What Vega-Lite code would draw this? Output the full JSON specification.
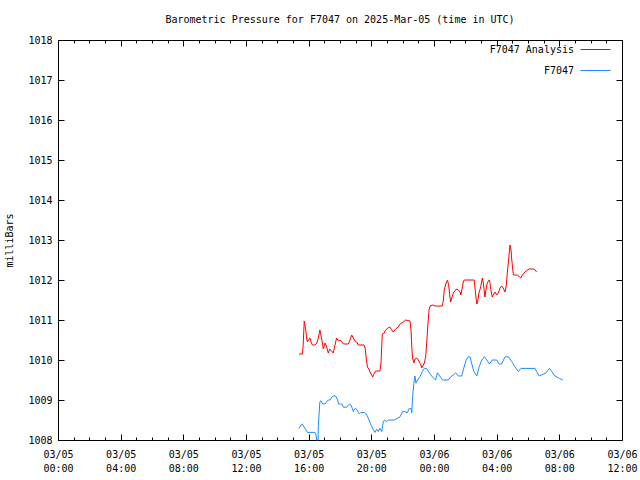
{
  "$schema": "https://vega.github.io/schema/vega-lite/v6.json",
  "width": 564,
  "height": 400,
  "autosize": {"type": "none"},
  "padding": {"left": 58, "top": 40, "right": 18, "bottom": 40},
  "background": "#ffffff",
  "config": {
    "view": {"stroke": "#000000", "strokeWidth": 1},
    "axis": {"domain": false, "grid": false, "tickColor": "#000000", "tickWidth": 1, "labelColor": "#000000", "labelFont": "DejaVu Sans Mono", "labelFontSize": 10, "titleFont": "DejaVu Sans Mono", "titleFontSize": 10, "titleFontWeight": "normal", "titleColor": "#000000"}
  },
  "title": {"text": "Barometric Pressure for F7047 on 2025-Mar-05 (time in UTC)", "font": "DejaVu Sans Mono", "fontSize": 10, "fontWeight": "normal", "color": "#000000", "anchor": "middle", "frame": "group", "offset": 9},
  "resolve": {"axis": {"x": "independent", "y": "independent"}},
  "datasets": {
    "analysis": [
      {"t": "2025-03-05T15:23:00Z", "p": 1010.15}, {"t": "2025-03-05T15:36:00Z", "p": 1010.15}, {"t": "2025-03-05T15:39:00Z", "p": 1010.375},
      {"t": "2025-03-05T15:43:00Z", "p": 1010.975}, {"t": "2025-03-05T15:46:00Z", "p": 1010.875}, {"t": "2025-03-05T15:49:00Z", "p": 1010.75},
      {"t": "2025-03-05T15:52:00Z", "p": 1010.55}, {"t": "2025-03-05T15:55:00Z", "p": 1010.45}, {"t": "2025-03-05T15:59:00Z", "p": 1010.5},
      {"t": "2025-03-05T16:05:00Z", "p": 1010.55}, {"t": "2025-03-05T16:09:00Z", "p": 1010.45}, {"t": "2025-03-05T16:14:00Z", "p": 1010.375},
      {"t": "2025-03-05T16:24:00Z", "p": 1010.375}, {"t": "2025-03-05T16:31:00Z", "p": 1010.425}, {"t": "2025-03-05T16:37:00Z", "p": 1010.55},
      {"t": "2025-03-05T16:43:00Z", "p": 1010.75}, {"t": "2025-03-05T16:47:00Z", "p": 1010.625}, {"t": "2025-03-05T16:52:00Z", "p": 1010.45},
      {"t": "2025-03-05T16:56:00Z", "p": 1010.275}, {"t": "2025-03-05T17:03:00Z", "p": 1010.425}, {"t": "2025-03-05T17:09:00Z", "p": 1010.325},
      {"t": "2025-03-05T17:15:00Z", "p": 1010.175}, {"t": "2025-03-05T17:21:00Z", "p": 1010.275}, {"t": "2025-03-05T17:28:00Z", "p": 1010.225},
      {"t": "2025-03-05T17:34:00Z", "p": 1010.175}, {"t": "2025-03-05T17:41:00Z", "p": 1010.375}, {"t": "2025-03-05T17:47:00Z", "p": 1010.55},
      {"t": "2025-03-05T17:54:00Z", "p": 1010.475}, {"t": "2025-03-05T18:01:00Z", "p": 1010.5}, {"t": "2025-03-05T18:07:00Z", "p": 1010.45},
      {"t": "2025-03-05T18:13:00Z", "p": 1010.4}, {"t": "2025-03-05T18:32:00Z", "p": 1010.4}, {"t": "2025-03-05T18:38:00Z", "p": 1010.5},
      {"t": "2025-03-05T18:45:00Z", "p": 1010.625}, {"t": "2025-03-05T18:51:00Z", "p": 1010.55}, {"t": "2025-03-05T18:57:00Z", "p": 1010.475},
      {"t": "2025-03-05T19:04:00Z", "p": 1010.45}, {"t": "2025-03-05T19:10:00Z", "p": 1010.375}, {"t": "2025-03-05T19:32:00Z", "p": 1010.375},
      {"t": "2025-03-05T19:36:00Z", "p": 1010.3}, {"t": "2025-03-05T19:40:00Z", "p": 1010.075}, {"t": "2025-03-05T19:45:00Z", "p": 1009.825},
      {"t": "2025-03-05T19:51:00Z", "p": 1009.775}, {"t": "2025-03-05T19:55:00Z", "p": 1009.7}, {"t": "2025-03-05T20:01:00Z", "p": 1009.625},
      {"t": "2025-03-05T20:05:00Z", "p": 1009.575}, {"t": "2025-03-05T20:10:00Z", "p": 1009.65}, {"t": "2025-03-05T20:17:00Z", "p": 1009.725},
      {"t": "2025-03-05T20:33:00Z", "p": 1009.725}, {"t": "2025-03-05T20:37:00Z", "p": 1009.925}, {"t": "2025-03-05T20:42:00Z", "p": 1010.65},
      {"t": "2025-03-05T20:50:00Z", "p": 1010.675}, {"t": "2025-03-05T20:52:00Z", "p": 1010.725}, {"t": "2025-03-05T21:03:00Z", "p": 1010.8},
      {"t": "2025-03-05T21:11:00Z", "p": 1010.825}, {"t": "2025-03-05T21:18:00Z", "p": 1010.75}, {"t": "2025-03-05T21:24:00Z", "p": 1010.7},
      {"t": "2025-03-05T21:33:00Z", "p": 1010.775}, {"t": "2025-03-05T21:43:00Z", "p": 1010.825}, {"t": "2025-03-05T21:50:00Z", "p": 1010.9},
      {"t": "2025-03-05T22:02:00Z", "p": 1010.95}, {"t": "2025-03-05T22:12:00Z", "p": 1011.0}, {"t": "2025-03-05T22:28:00Z", "p": 1010.975},
      {"t": "2025-03-05T22:32:00Z", "p": 1010.75}, {"t": "2025-03-05T22:35:00Z", "p": 1010.325}, {"t": "2025-03-05T22:38:00Z", "p": 1010.05},
      {"t": "2025-03-05T22:43:00Z", "p": 1009.925}, {"t": "2025-03-05T22:47:00Z", "p": 1010.025}, {"t": "2025-03-05T22:54:00Z", "p": 1010.05},
      {"t": "2025-03-05T23:00:00Z", "p": 1010.0}, {"t": "2025-03-05T23:06:00Z", "p": 1009.925}, {"t": "2025-03-05T23:10:00Z", "p": 1009.875},
      {"t": "2025-03-05T23:13:00Z", "p": 1009.8}, {"t": "2025-03-05T23:19:00Z", "p": 1009.875}, {"t": "2025-03-05T23:23:00Z", "p": 1009.925},
      {"t": "2025-03-05T23:28:00Z", "p": 1010.075}, {"t": "2025-03-05T23:32:00Z", "p": 1010.425}, {"t": "2025-03-05T23:36:00Z", "p": 1010.825},
      {"t": "2025-03-05T23:41:00Z", "p": 1011.25}, {"t": "2025-03-05T23:45:00Z", "p": 1011.35}, {"t": "2025-03-05T23:55:00Z", "p": 1011.375},
      {"t": "2025-03-06T00:04:00Z", "p": 1011.35}, {"t": "2025-03-06T00:32:00Z", "p": 1011.35}, {"t": "2025-03-06T00:36:00Z", "p": 1011.5},
      {"t": "2025-03-06T00:39:00Z", "p": 1011.75}, {"t": "2025-03-06T00:45:00Z", "p": 1011.9}, {"t": "2025-03-06T00:50:00Z", "p": 1011.975},
      {"t": "2025-03-06T00:52:00Z", "p": 1012.0}, {"t": "2025-03-06T00:57:00Z", "p": 1011.825}, {"t": "2025-03-06T01:01:00Z", "p": 1011.575},
      {"t": "2025-03-06T01:04:00Z", "p": 1011.45}, {"t": "2025-03-06T01:08:00Z", "p": 1011.55}, {"t": "2025-03-06T01:14:00Z", "p": 1011.675},
      {"t": "2025-03-06T01:20:00Z", "p": 1011.725}, {"t": "2025-03-06T01:27:00Z", "p": 1011.775}, {"t": "2025-03-06T01:33:00Z", "p": 1011.75},
      {"t": "2025-03-06T01:40:00Z", "p": 1011.7}, {"t": "2025-03-06T01:43:00Z", "p": 1011.625}, {"t": "2025-03-06T01:48:00Z", "p": 1011.8},
      {"t": "2025-03-06T01:52:00Z", "p": 1011.95}, {"t": "2025-03-06T01:56:00Z", "p": 1012.0}, {"t": "2025-03-06T02:34:00Z", "p": 1012.0},
      {"t": "2025-03-06T02:37:00Z", "p": 1011.8}, {"t": "2025-03-06T02:41:00Z", "p": 1011.55}, {"t": "2025-03-06T02:44:00Z", "p": 1011.4},
      {"t": "2025-03-06T02:47:00Z", "p": 1011.45}, {"t": "2025-03-06T02:52:00Z", "p": 1011.675}, {"t": "2025-03-06T02:59:00Z", "p": 1011.825},
      {"t": "2025-03-06T03:05:00Z", "p": 1012.05}, {"t": "2025-03-06T03:09:00Z", "p": 1011.925}, {"t": "2025-03-06T03:13:00Z", "p": 1011.7},
      {"t": "2025-03-06T03:15:00Z", "p": 1011.575}, {"t": "2025-03-06T03:19:00Z", "p": 1011.75}, {"t": "2025-03-06T03:24:00Z", "p": 1011.925},
      {"t": "2025-03-06T03:31:00Z", "p": 1012.0}, {"t": "2025-03-06T03:34:00Z", "p": 1011.95}, {"t": "2025-03-06T03:38:00Z", "p": 1011.75},
      {"t": "2025-03-06T03:43:00Z", "p": 1011.575}, {"t": "2025-03-06T03:47:00Z", "p": 1011.625}, {"t": "2025-03-06T03:54:00Z", "p": 1011.7},
      {"t": "2025-03-06T04:00:00Z", "p": 1011.625}, {"t": "2025-03-06T04:06:00Z", "p": 1011.675}, {"t": "2025-03-06T04:13:00Z", "p": 1011.8},
      {"t": "2025-03-06T04:19:00Z", "p": 1011.85}, {"t": "2025-03-06T04:25:00Z", "p": 1011.8}, {"t": "2025-03-06T04:32:00Z", "p": 1011.7},
      {"t": "2025-03-06T04:37:00Z", "p": 1011.875}, {"t": "2025-03-06T04:41:00Z", "p": 1012.2}, {"t": "2025-03-06T04:45:00Z", "p": 1012.45},
      {"t": "2025-03-06T04:51:00Z", "p": 1012.875}, {"t": "2025-03-06T04:55:00Z", "p": 1012.75}, {"t": "2025-03-06T04:58:00Z", "p": 1012.5},
      {"t": "2025-03-06T05:01:00Z", "p": 1012.3}, {"t": "2025-03-06T05:04:00Z", "p": 1012.125}, {"t": "2025-03-06T05:20:00Z", "p": 1012.125},
      {"t": "2025-03-06T05:27:00Z", "p": 1012.075}, {"t": "2025-03-06T05:33:00Z", "p": 1012.05}, {"t": "2025-03-06T05:38:00Z", "p": 1012.125},
      {"t": "2025-03-06T05:48:00Z", "p": 1012.2}, {"t": "2025-03-06T06:04:00Z", "p": 1012.275}, {"t": "2025-03-06T06:24:00Z", "p": 1012.275},
      {"t": "2025-03-06T06:33:00Z", "p": 1012.2}
    ],
    "observed": [
      {"t": "2025-03-05T15:23:00Z", "p": 1008.29}, {"t": "2025-03-05T15:31:00Z", "p": 1008.375}, {"t": "2025-03-05T15:36:00Z", "p": 1008.4},
      {"t": "2025-03-05T15:42:00Z", "p": 1008.33}, {"t": "2025-03-05T15:50:00Z", "p": 1008.25}, {"t": "2025-03-05T15:55:00Z", "p": 1008.19},
      {"t": "2025-03-05T16:24:00Z", "p": 1008.19}, {"t": "2025-03-05T16:28:00Z", "p": 1008.125}, {"t": "2025-03-05T16:31:00Z", "p": 1008.0},
      {"t": "2025-03-05T16:36:00Z", "p": 1008.0}, {"t": "2025-03-05T16:37:00Z", "p": 1008.33}, {"t": "2025-03-05T16:40:00Z", "p": 1008.675},
      {"t": "2025-03-05T16:43:00Z", "p": 1008.96}, {"t": "2025-03-05T16:47:00Z", "p": 1008.98}, {"t": "2025-03-05T16:54:00Z", "p": 1008.9},
      {"t": "2025-03-05T17:03:00Z", "p": 1008.9}, {"t": "2025-03-05T17:09:00Z", "p": 1008.96}, {"t": "2025-03-05T17:15:00Z", "p": 1009.0},
      {"t": "2025-03-05T17:22:00Z", "p": 1009.0}, {"t": "2025-03-05T17:28:00Z", "p": 1009.07}, {"t": "2025-03-05T17:34:00Z", "p": 1009.1},
      {"t": "2025-03-05T17:43:00Z", "p": 1009.1}, {"t": "2025-03-05T17:51:00Z", "p": 1009.0}, {"t": "2025-03-05T17:54:00Z", "p": 1008.9},
      {"t": "2025-03-05T18:07:00Z", "p": 1008.9}, {"t": "2025-03-05T18:13:00Z", "p": 1008.82}, {"t": "2025-03-05T18:26:00Z", "p": 1008.82},
      {"t": "2025-03-05T18:29:00Z", "p": 1008.85}, {"t": "2025-03-05T18:36:00Z", "p": 1008.9}, {"t": "2025-03-05T18:42:00Z", "p": 1008.875},
      {"t": "2025-03-05T18:47:00Z", "p": 1008.79}, {"t": "2025-03-05T18:51:00Z", "p": 1008.71}, {"t": "2025-03-05T18:55:00Z", "p": 1008.77},
      {"t": "2025-03-05T19:01:00Z", "p": 1008.79}, {"t": "2025-03-05T19:08:00Z", "p": 1008.73}, {"t": "2025-03-05T19:10:00Z", "p": 1008.68},
      {"t": "2025-03-05T19:14:00Z", "p": 1008.65}, {"t": "2025-03-05T19:19:00Z", "p": 1008.68}, {"t": "2025-03-05T19:33:00Z", "p": 1008.69},
      {"t": "2025-03-05T19:38:00Z", "p": 1008.67}, {"t": "2025-03-05T19:45:00Z", "p": 1008.6}, {"t": "2025-03-05T19:51:00Z", "p": 1008.5},
      {"t": "2025-03-05T19:59:00Z", "p": 1008.375}, {"t": "2025-03-05T20:08:00Z", "p": 1008.25}, {"t": "2025-03-05T20:14:00Z", "p": 1008.19},
      {"t": "2025-03-05T20:21:00Z", "p": 1008.27}, {"t": "2025-03-05T20:27:00Z", "p": 1008.21}, {"t": "2025-03-05T20:33:00Z", "p": 1008.29},
      {"t": "2025-03-05T20:40:00Z", "p": 1008.21}, {"t": "2025-03-05T20:46:00Z", "p": 1008.46}, {"t": "2025-03-05T20:50:00Z", "p": 1008.5},
      {"t": "2025-03-05T20:59:00Z", "p": 1008.46}, {"t": "2025-03-05T21:05:00Z", "p": 1008.5}, {"t": "2025-03-05T21:27:00Z", "p": 1008.5},
      {"t": "2025-03-05T21:34:00Z", "p": 1008.52}, {"t": "2025-03-05T21:50:00Z", "p": 1008.58}, {"t": "2025-03-05T22:00:00Z", "p": 1008.71},
      {"t": "2025-03-05T22:09:00Z", "p": 1008.71}, {"t": "2025-03-05T22:18:00Z", "p": 1008.68}, {"t": "2025-03-05T22:25:00Z", "p": 1008.79},
      {"t": "2025-03-05T22:32:00Z", "p": 1008.79}, {"t": "2025-03-05T22:35:00Z", "p": 1008.68}, {"t": "2025-03-05T22:38:00Z", "p": 1009.08},
      {"t": "2025-03-05T22:43:00Z", "p": 1009.42}, {"t": "2025-03-05T22:47:00Z", "p": 1009.6}, {"t": "2025-03-05T22:51:00Z", "p": 1009.42},
      {"t": "2025-03-05T22:57:00Z", "p": 1009.5}, {"t": "2025-03-05T23:06:00Z", "p": 1009.58}, {"t": "2025-03-05T23:15:00Z", "p": 1009.71},
      {"t": "2025-03-05T23:23:00Z", "p": 1009.79}, {"t": "2025-03-05T23:32:00Z", "p": 1009.79}, {"t": "2025-03-05T23:42:00Z", "p": 1009.68},
      {"t": "2025-03-05T23:51:00Z", "p": 1009.6}, {"t": "2025-03-06T00:00:00Z", "p": 1009.54}, {"t": "2025-03-06T00:06:00Z", "p": 1009.5},
      {"t": "2025-03-06T00:13:00Z", "p": 1009.68}, {"t": "2025-03-06T00:19:00Z", "p": 1009.625}, {"t": "2025-03-06T00:33:00Z", "p": 1009.5},
      {"t": "2025-03-06T00:55:00Z", "p": 1009.5}, {"t": "2025-03-06T01:04:00Z", "p": 1009.58}, {"t": "2025-03-06T01:14:00Z", "p": 1009.625},
      {"t": "2025-03-06T01:23:00Z", "p": 1009.68}, {"t": "2025-03-06T01:33:00Z", "p": 1009.6}, {"t": "2025-03-06T01:46:00Z", "p": 1009.6},
      {"t": "2025-03-06T01:52:00Z", "p": 1009.75}, {"t": "2025-03-06T02:03:00Z", "p": 1010.0}, {"t": "2025-03-06T02:11:00Z", "p": 1010.08},
      {"t": "2025-03-06T02:18:00Z", "p": 1010.08}, {"t": "2025-03-06T02:24:00Z", "p": 1009.92}, {"t": "2025-03-06T02:33:00Z", "p": 1009.71},
      {"t": "2025-03-06T02:44:00Z", "p": 1009.6}, {"t": "2025-03-06T02:53:00Z", "p": 1009.83}, {"t": "2025-03-06T03:03:00Z", "p": 1010.0},
      {"t": "2025-03-06T03:13:00Z", "p": 1010.08}, {"t": "2025-03-06T03:22:00Z", "p": 1010.0}, {"t": "2025-03-06T03:32:00Z", "p": 1009.9},
      {"t": "2025-03-06T03:43:00Z", "p": 1010.0}, {"t": "2025-03-06T04:00:00Z", "p": 1010.0}, {"t": "2025-03-06T04:10:00Z", "p": 1009.9},
      {"t": "2025-03-06T04:19:00Z", "p": 1009.9}, {"t": "2025-03-06T04:32:00Z", "p": 1010.08}, {"t": "2025-03-06T04:45:00Z", "p": 1010.08},
      {"t": "2025-03-06T04:58:00Z", "p": 1009.96}, {"t": "2025-03-06T05:10:00Z", "p": 1009.83}, {"t": "2025-03-06T05:23:00Z", "p": 1009.71},
      {"t": "2025-03-06T05:33:00Z", "p": 1009.79}, {"t": "2025-03-06T06:27:00Z", "p": 1009.79}, {"t": "2025-03-06T06:33:00Z", "p": 1009.71},
      {"t": "2025-03-06T06:43:00Z", "p": 1009.6}, {"t": "2025-03-06T06:52:00Z", "p": 1009.625}, {"t": "2025-03-06T07:09:00Z", "p": 1009.68},
      {"t": "2025-03-06T07:22:00Z", "p": 1009.79}, {"t": "2025-03-06T07:31:00Z", "p": 1009.71}, {"t": "2025-03-06T07:43:00Z", "p": 1009.6},
      {"t": "2025-03-06T08:00:00Z", "p": 1009.54}, {"t": "2025-03-06T08:13:00Z", "p": 1009.5}
    ]
  },
  "layer": [
    {
      "data": {"name": "analysis"},
      "mark": {"type": "line", "strokeWidth": 1},
      "encoding": {
        "x": {"field": "t", "type": "temporal",
          "scale": {"type": "utc", "domain": [1741132800000, 1741262400000], "nice": false},
          "axis": {"orient": "bottom", "title": null,
            "values": [1741132800000, 1741147200000, 1741161600000, 1741176000000, 1741190400000, 1741204800000, 1741219200000, 1741233600000, 1741248000000, 1741262400000],
            "tickSize": -6,
            "labelExpr": "[utcFormat(datum.value, '%m/%d'), utcFormat(datum.value, '%H:%M')]",
            "labelLineHeight": 14, "labelPadding": 15, "labelOverlap": false, "labelFlush": false, "labelBound": false}},
        "y": {"field": "p", "type": "quantitative",
          "scale": {"domain": [1008, 1018], "nice": false, "zero": false},
          "axis": {"orient": "left", "title": "milliBars", "format": "d", "values": [1008, 1009, 1010, 1011, 1012, 1013, 1014, 1015, 1016, 1017, 1018], "tickSize": -6, "labelPadding": 12, "titlePadding": 13, "labelOverlap": false, "labelFlush": false, "labelBound": false}},
        "color": {"datum": "F7047 Analysis", "type": "nominal",
          "scale": {"domain": ["F7047 Analysis", "F7047"], "range": ["#ff0000", "#1e8cff"]},
          "legend": {"orient": "none", "legendX": 522, "legendY": -6, "title": null, "symbolType": "stroke", "symbolSize": 900, "symbolStrokeWidth": 1, "symbolOpacity": 1, "rowPadding": -16, "labelAlign": "right", "labelOffset": -37, "labelFont": "DejaVu Sans Mono", "labelFontSize": 10, "labelColor": "#000000", "labelLimit": 300}}
      }
    },
    {
      "data": {"name": "observed"},
      "mark": {"type": "line", "strokeWidth": 1},
      "encoding": {
        "x": {"field": "t", "type": "temporal",
          "axis": {"orient": "top", "title": null, "labels": false, "tickSize": -6,
            "values": [1741132800000, 1741147200000, 1741161600000, 1741176000000, 1741190400000, 1741204800000, 1741219200000, 1741233600000, 1741248000000, 1741262400000]}},
        "y": {"field": "p", "type": "quantitative",
          "axis": {"orient": "right", "title": null, "labels": false, "values": [1008, 1009, 1010, 1011, 1012, 1013, 1014, 1015, 1016, 1017, 1018], "tickSize": -6}},
        "color": {"datum": "F7047", "type": "nominal"}
      }
    },
    {
      "data": {"name": "analysis"},
      "mark": {"type": "line", "strokeWidth": 1, "opacity": 0},
      "encoding": {
        "x": {"field": "t", "type": "temporal",
          "axis": {"orient": "bottom", "title": null, "labels": false, "tickSize": -3,
            "values": [1741132800000, 1741136400000, 1741140000000, 1741143600000, 1741147200000, 1741150800000, 1741154400000, 1741158000000, 1741161600000, 1741165200000, 1741168800000, 1741172400000, 1741176000000, 1741179600000, 1741183200000, 1741186800000, 1741190400000, 1741194000000, 1741197600000, 1741201200000, 1741204800000, 1741208400000, 1741212000000, 1741215600000, 1741219200000, 1741222800000, 1741226400000, 1741230000000, 1741233600000, 1741237200000, 1741240800000, 1741244400000, 1741248000000, 1741251600000, 1741255200000, 1741258800000, 1741262400000]}},
        "y": {"field": "p", "type": "quantitative", "axis": null}
      }
    },
    {
      "data": {"name": "observed"},
      "mark": {"type": "line", "strokeWidth": 1, "opacity": 0},
      "encoding": {
        "x": {"field": "t", "type": "temporal",
          "axis": {"orient": "top", "title": null, "labels": false, "tickSize": -3,
            "values": [1741132800000, 1741136400000, 1741140000000, 1741143600000, 1741147200000, 1741150800000, 1741154400000, 1741158000000, 1741161600000, 1741165200000, 1741168800000, 1741172400000, 1741176000000, 1741179600000, 1741183200000, 1741186800000, 1741190400000, 1741194000000, 1741197600000, 1741201200000, 1741204800000, 1741208400000, 1741212000000, 1741215600000, 1741219200000, 1741222800000, 1741226400000, 1741230000000, 1741233600000, 1741237200000, 1741240800000, 1741244400000, 1741248000000, 1741251600000, 1741255200000, 1741258800000, 1741262400000]}},
        "y": {"field": "p", "type": "quantitative", "axis": null}
      }
    }
  ]
}
